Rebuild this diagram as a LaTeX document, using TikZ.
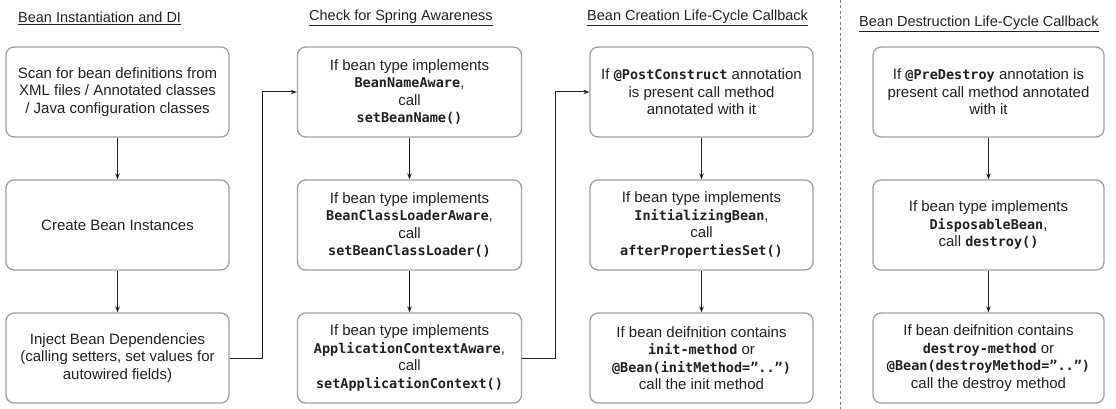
\documentclass[tikz,border=0pt]{standalone}
\usepackage{fontspec}
\setmainfont{Liberation Sans}
\setmonofont{DejaVu Sans Mono}
\usetikzlibrary{arrows.meta,positioning}
\definecolor{boxline}{HTML}{A0A0A0}
\definecolor{txt}{HTML}{222222}
\newcommand{\cd}[1]{{\fontsize{13.5pt}{17.5pt}\ttfamily\bfseries #1}}
\tikzset{
  stepbox/.style={draw=boxline, line width=1.3pt, rounded corners=8pt, fill=white,
    minimum height=90pt, align=center, inner sep=2pt, text=txt,
    font=\fontsize{15pt}{17.5pt}\selectfont},
  hdr/.style={anchor=west, text=txt, font=\fontsize{14.5pt}{17pt}\selectfont, inner sep=0pt},
  flow/.style={draw=txt, line width=1pt, -{Stealth[length=6pt,width=4.5pt]}}
}
\begin{document}
\begin{tikzpicture}[x=1pt,y=-1pt]
\useasboundingbox (0,0) rectangle (1116,409);
% headers
\node[hdr] (h1) at (18,18) {\underline{Bean Instantiation and DI}};
\node[hdr] (h2) at (309,18) {\underline{Check for Spring Awareness}};
\node[hdr] (h3) at (587,18) {\underline{Bean Creation Life-Cycle Callback}};
\node[hdr] (h4) at (859,24) {\underline{Bean Destruction Life-Cycle Callback}};
% separator
\draw[boxline!80!black, line width=1pt, dash pattern=on 3pt off 2.5pt] (840,0) coordinate (s1) -- (840,409) coordinate (s2);
% column 1
\node[stepbox, minimum width=223pt] (a1) at (117.5,92) {Scan for bean definitions from\\XML files / Annotated classes\\/ Java configuration classes};
\node[stepbox, minimum width=223pt] (a2) at (117.5,225) {Create Bean Instances};
\node[stepbox, minimum width=223pt] (a3) at (117.5,358) {Inject Bean Dependencies\\(calling setters, set values for\\autowired fields)};
% column 2
\node[stepbox, minimum width=224pt] (b1) at (409.5,92) {If bean type implements\\\cd{BeanNameAware},\\call\\\cd{setBeanName()}};
\node[stepbox, minimum width=224pt] (b2) at (409.5,225) {If bean type implements\\\cd{BeanClassLoaderAware},\\call\\\cd{setBeanClassLoader()}};
\node[stepbox, minimum width=224pt] (b3) at (409.5,358) {If bean type implements\\\cd{ApplicationContextAware},\\call\\\cd{setApplicationContext()}};
% column 3
\node[stepbox, minimum width=223pt] (c1) at (701.5,92) {If \cd{@PostConstruct} annotation\\is present call method\\annotated with it};
\node[stepbox, minimum width=223pt] (c2) at (701.5,225) {If bean type implements\\\cd{InitializingBean},\\call\\\cd{afterPropertiesSet()}};
\node[stepbox, minimum width=223pt] (c3) at (701.5,358) {If bean deifnition contains\\\cd{init-method} or\\\cd{@Bean(initMethod=”..”)}\\call the init method};
% column 4
\node[stepbox, minimum width=231pt] (d1) at (988.5,92) {If \cd{@PreDestroy} annotation is\\present call method annotated\\with it};
\node[stepbox, minimum width=231pt] (d2) at (988.5,225) {If bean type implements\\\cd{DisposableBean},\\call \cd{destroy()}};
\node[stepbox, minimum width=231pt] (d3) at (988.5,358) {If bean deifnition contains\\\cd{destroy-method} or\\\cd{@Bean(destroyMethod=”..”)}\\call the destroy method};
% vertical arrows
\foreach \c in {a,b,c,d}{
  \draw[flow] (\c1) -- (\c2);
  \draw[flow] (\c2) -- (\c3);
}
% cross-column connectors
\draw[flow] (a3.east) -- ++(33,0) coordinate (k1) |- (b1.west);
\draw[flow] (b3.east) -- ++(33,0) coordinate (k2) |- (c1.west);
\end{tikzpicture}
\end{document}
